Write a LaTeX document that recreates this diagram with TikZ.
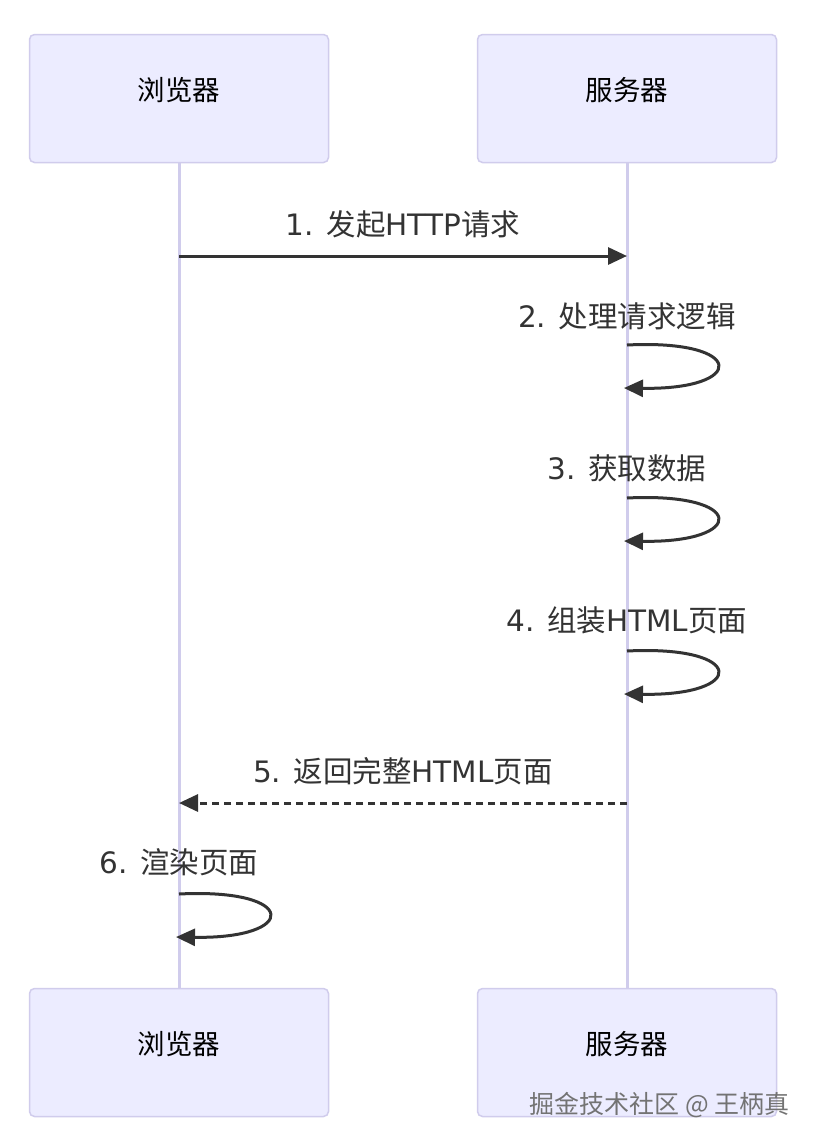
\documentclass[tikz,border=0pt]{standalone}
\usepackage{fontspec}
\setmainfont{DejaVu Sans}
\newfontfamily\cjkfam{Noto Sans CJK SC}
\newcommand\zh[1]{{\cjkfam\fontsize{29.5}{34}\selectfont #1}}
\usetikzlibrary{arrows.meta}
\definecolor{actfill}{HTML}{ECECFF}
\definecolor{actline}{HTML}{D0CCEC}
\definecolor{msgcol}{HTML}{333333}
\begin{document}
\begin{tikzpicture}[x=1pt,y=-1pt,
  actor/.style={draw=actline,line width=1.5pt,fill=actfill,rounded corners=5pt,minimum width=299pt,minimum height=128pt,inner sep=0pt},
  alabel/.style={font=\cjkfam\fontsize{27.5}{32}\selectfont,text=black,inner sep=0pt},
  life/.style={draw=actline,line width=3pt},
  msg/.style={draw=msgcol,line width=3pt,-{Triangle[length=19pt,width=17pt]}},
  lbl/.style={font=\fontsize{29.5}{34}\selectfont,text=msgcol,inner sep=0pt}]
\useasboundingbox (0,0) rectangle (816,1146);
\fill[white] (0,0) rectangle (816,1146);
% lifelines
\coordinate (bt) at (179,163);
\coordinate (bb) at (179,988);
\coordinate (st) at (627,163);
\coordinate (sb) at (627,988);
\draw[life] (bt) -- (bb);
\draw[life] (st) -- (sb);
% actors
\node[actor] (b1) at (179,98.5) {};
\node[actor] (s1) at (627,98.5) {};
\node[actor] (b2) at (179,1052.5) {};
\node[actor] (s2) at (627,1052.5) {};
\node[alabel] (b1t) at (179,90) {浏览器};
\node[alabel] (s1t) at (627,90) {服务器};
\node[alabel] (b2t) at (179,1044) {浏览器};
\node[alabel] (s2t) at (627,1044) {服务器};
% message 1
\coordinate (m1a) at (179,256);
\coordinate (m1b) at (627,256);
\draw[msg] (m1a) -- (m1b);
\node[lbl] (l1) at (403,224) {1. \zh{发起}HTTP\zh{请求}};
% message 2 self
\coordinate (m2a) at (627,345);
\coordinate (m2b) at (624,388);
\draw[msg] (m2a) .. controls (747,339) and (747,390) .. (m2b);
\node[lbl] (l2) at (627,316) {2. \zh{处理请求逻辑}};
% message 3 self
\coordinate (m3a) at (627,498);
\coordinate (m3b) at (624,541);
\draw[msg] (m3a) .. controls (747,492) and (747,543) .. (m3b);
\node[lbl] (l3) at (627,468) {3. \zh{获取数据}};
% message 4 self
\coordinate (m4a) at (627,651);
\coordinate (m4b) at (624,694);
\draw[msg] (m4a) .. controls (747,645) and (747,696) .. (m4b);
\node[lbl] (l4) at (627,620) {4. \zh{组装}HTML\zh{页面}};
% message 5 dashed
\coordinate (m5a) at (627,803);
\coordinate (m5b) at (179,803);
\draw[msg,dash pattern=on 7pt off 5pt] (m5a) -- (m5b);
\node[lbl] (l5) at (403,771) {5. \zh{返回完整}HTML\zh{页面}};
% message 6 self
\coordinate (m6a) at (179,894);
\coordinate (m6b) at (176,937);
\draw[msg] (m6a) .. controls (299,888) and (299,939) .. (m6b);
\node[lbl] (l6) at (179,862) {6. \zh{渲染页面}};
% watermark
\node[anchor=east,font=\cjkfam\fontsize{25}{30}\selectfont,text=black!55,inner sep=0pt] (wm) at (790,1105) {掘金技术社区 @ 王柄真};
\end{tikzpicture}
\end{document}
